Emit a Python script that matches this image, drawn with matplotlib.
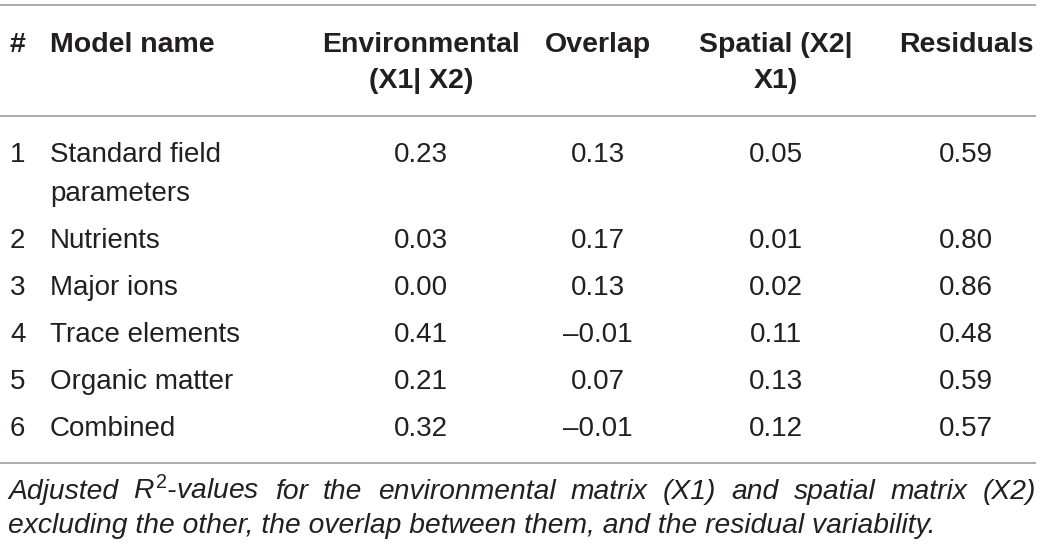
import matplotlib
matplotlib.use("Agg")
import matplotlib.pyplot as plt

plt.rcParams['font.family'] = ['Liberation Sans', 'DejaVu Sans']
plt.rcParams['mathtext.fontset'] = 'custom'
plt.rcParams['mathtext.rm'] = 'Liberation Sans'
plt.rcParams['mathtext.it'] = 'Liberation Sans:italic'
plt.rcParams['mathtext.bf'] = 'Liberation Sans:bold'

# ---- data ----
row_ids = ["1", "2", "3", "4", "5", "6"]
model_names = [["Standard field", "parameters"], ["Nutrients"], ["Major ions"],
               ["Trace elements"], ["Organic matter"], ["Combined"]]
environmental = [0.23, 0.03, 0.00, 0.41, 0.21, 0.32]
overlap = [0.13, 0.17, 0.13, -0.01, 0.07, -0.01]
spatial = [0.05, 0.01, 0.02, 0.11, 0.13, 0.12]
residuals = [0.59, 0.80, 0.86, 0.48, 0.59, 0.57]
headers = [["#"], ["Model name"], ["Environmental", "(X1| X2)"], ["Overlap"],
           ["Spatial (X2|", "X1)"], ["Residuals"]]
footnote_lines = [
    "Adjusted $\\mathit{R}^{\\mathrm{2}}$-values for the environmental matrix (X1) and spatial matrix (X2)",
    "excluding the other, the overlap between them, and the residual variability.",
]

# ---- layout ----
W, H = 1042, 555
fig = plt.figure(figsize=(W / 100, H / 100), dpi=100)
ax = fig.add_axes([0, 0, 1, 1])
ax.set_xlim(0, W)
ax.set_ylim(H, 0)
ax.axis('off')

TXT = '#231f20'
LINE = '#959595'
FS = 20
FS_HDR = 20.5
FS_FOOT = 20.3

def fmt(v):
    s = f"{v:.2f}"
    return s.replace("-", "\u2013")

# horizontal rules
for y in (5, 116, 463):
    ax.plot([0, 1036], [y, y], color=LINE, lw=1.1, solid_capstyle='butt')

# header
col_x = [9, 50, 421, 598, 776, 966]
col_ha = ['left', 'left', 'center', 'center', 'center', 'center']
hdr_base = [52, 88]
for (lines, x, ha) in zip(headers, col_x, col_ha):
    for i, t in enumerate(lines):
        ax.text(x, hdr_base[i], t, ha=ha, va='baseline', fontsize=FS_HDR,
                fontweight='bold', color=TXT)

# rows
row_base = [162, 248, 295, 342, 389, 436]
sub_gap = 39
cols = [environmental, overlap, spatial, residuals]
for r in range(len(row_ids)):
    yb = row_base[r]
    ax.text(10, yb, row_ids[r], ha='left', va='baseline', fontsize=FS, color=TXT)
    for k, nm in enumerate(model_names[r]):
        ax.text(50, yb + k * sub_gap, nm, ha='left', va='baseline', fontsize=FS, color=TXT)
    for c, vals in enumerate(cols):
        ax.text(col_x[c + 2], yb, fmt(vals[r]), ha='center', va='baseline',
                fontsize=FS, color=TXT)

# footnote (justified first line)
fig.canvas.draw()
renderer = fig.canvas.get_renderer()
foot_base = [499, 533]
left, right = 8, 1036
for li, line in enumerate(footnote_lines):
    words = line.split(" ")
    if li < len(footnote_lines) - 1:
        arts = [ax.text(0, foot_base[li], w, ha='left', va='baseline', fontsize=FS_FOOT,
                        style='italic', color=TXT) for w in words]
        widths = [a.get_window_extent(renderer).width for a in arts]
        gap = (right - left - sum(widths)) / (len(words) - 1)
        x = left
        for a, wd in zip(arts, widths):
            a.set_x(x)
            x += wd + gap
    else:
        ax.text(left, foot_base[li], line, ha='left', va='baseline', fontsize=FS_FOOT,
                style='italic', color=TXT)

fig.savefig("out.png", dpi=100)
